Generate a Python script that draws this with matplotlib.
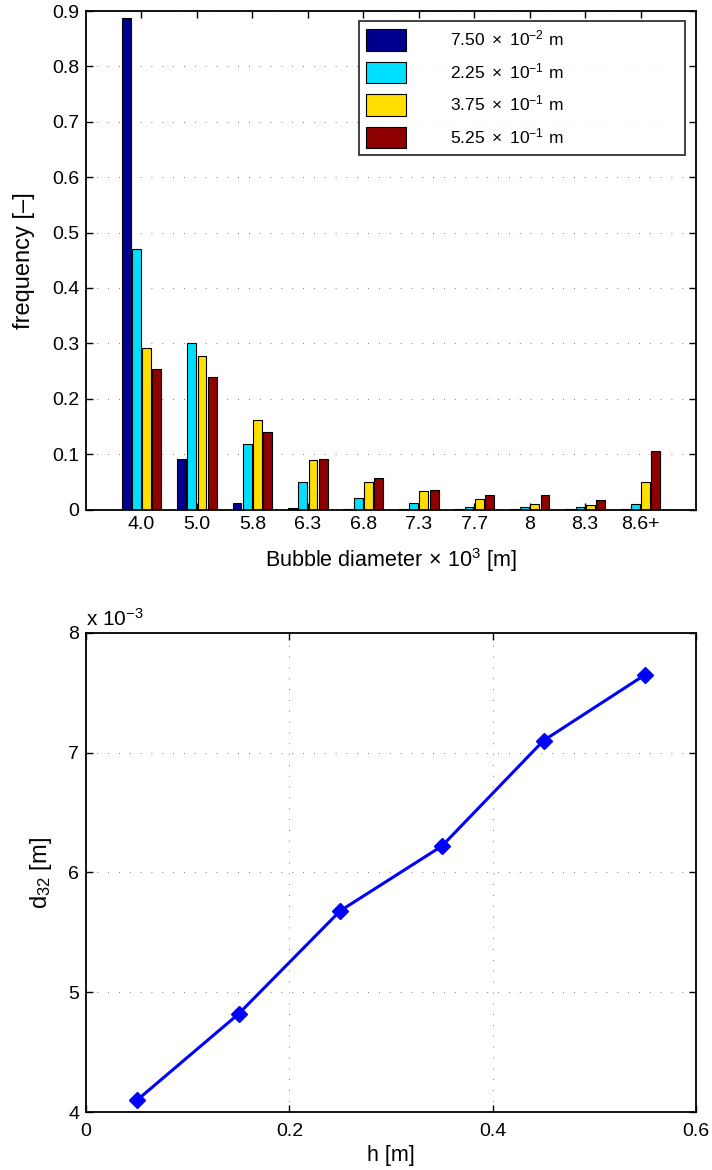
import numpy as np
import matplotlib
matplotlib.use("Agg")
import matplotlib.pyplot as plt

plt.rcParams['font.family'] = ['Liberation Sans', 'DejaVu Sans']
plt.rcParams['mathtext.fontset'] = 'custom'
plt.rcParams['mathtext.rm'] = 'Liberation Sans'
plt.rcParams['mathtext.it'] = 'Liberation Sans:italic'
plt.rcParams['mathtext.default'] = 'regular'

# --- distribución de tamaños de burbuja ---
clases_diametro = ['4.0', '5.0', '5.8', '6.3', '6.8', '7.3', '7.7', '8', '8.3', '8.6+']
alturas_leyenda = [r'$7.50\ \times\ 10^{-2}$ m', r'$2.25\ \times\ 10^{-1}$ m',
                   r'$3.75\ \times\ 10^{-1}$ m', r'$5.25\ \times\ 10^{-1}$ m']
freq_h1 = [0.887, 0.092, 0.011, 0.003, 0.001, 0.0005, 0.0005, 0.0005, 0.0005, 0.001]
freq_h2 = [0.470, 0.300, 0.118, 0.049, 0.020, 0.012, 0.005, 0.005, 0.004, 0.010]
freq_h3 = [0.292, 0.278, 0.161, 0.090, 0.049, 0.034, 0.019, 0.010, 0.009, 0.049]
freq_h4 = [0.253, 0.239, 0.140, 0.091, 0.057, 0.035, 0.027, 0.027, 0.018, 0.106]
colores = ['#00008F', '#00DFFF', '#FFDF00', '#8F0000']

# --- diámetro de Sauter frente a la altura ---
h = [0.05, 0.15, 0.25, 0.35, 0.45, 0.55]
d32 = [4.10e-3, 4.82e-3, 5.68e-3, 6.22e-3, 7.10e-3, 7.65e-3]

fig = plt.figure(figsize=(7.12, 11.7), dpi=100)
ax1 = fig.add_axes([86 / 712, 1 - 509.5 / 1170, 610 / 712, 498.5 / 1170])
ax2 = fig.add_axes([86 / 712, 1 - 1112.3 / 1170, 610 / 712, 479.6 / 1170])

fs = 14
fs_lab = 17
grid_kw = dict(color='0.3', linestyle=(0, (1, 12)), linewidth=0.6)

def estilo_matlab(ax):
    for s in ax.spines.values():
        s.set_linewidth(1.3)
    ax.tick_params(direction='in', top=True, right=True, length=5, width=1.0,
                   labelsize=fs, pad=5)

# barras agrupadas
x = np.arange(1, len(clases_diametro) + 1)
paso = 0.185
ancho = 0.16
series = [freq_h1, freq_h2, freq_h3, freq_h4]
for i, (serie, col, lab) in enumerate(zip(series, colores, alturas_leyenda)):
    ax1.bar(x + (i - 1.5) * paso, serie, width=ancho, color=col,
            edgecolor='black', linewidth=0.8, label=lab, zorder=2)
ax1.set_xlim(0, 11)
ax1.set_ylim(0, 0.9)
ax1.set_xticks(x)
ax1.set_xticklabels(clases_diametro)
ax1.set_yticks(np.arange(0, 0.91, 0.1))
ax1.set_yticklabels(['0'] + ['%.1f' % v for v in np.arange(0.1, 0.91, 0.1)])
ax1.yaxis.grid(True, **grid_kw)
ax1.set_axisbelow(True)
estilo_matlab(ax1)
ax1.set_xlabel(r'Bubble diameter$\,\times\,10^{3}$ [m]', fontsize=15.5, labelpad=9)
ax1.set_ylabel('frequency [–]', fontsize=fs_lab, labelpad=12)

leg = ax1.legend(loc='upper left', bbox_to_anchor=(273 / 610, 0.979, 326 / 610, 0.0),
                 mode='expand', fontsize=12.5, frameon=True, fancybox=False,
                 handlelength=2.3, handleheight=1.5, handletextpad=2.5,
                 labelspacing=0.62, borderpad=0.42, borderaxespad=0)
leg.get_frame().set_edgecolor('black')
leg.get_frame().set_linewidth(1.3)

# curva d32(h)
ax2.plot(h, np.array(d32) * 1e3, color='blue', linewidth=2.2, marker='D',
         markersize=8, markerfacecolor='blue', markeredgecolor='blue', zorder=3)
ax2.set_xlim(0, 0.6)
ax2.set_ylim(4, 8)
ax2.set_xticks([0, 0.2, 0.4, 0.6])
ax2.set_xticklabels(['0', '0.2', '0.4', '0.6'])
ax2.set_yticks([4, 5, 6, 7, 8])
ax2.grid(True, **grid_kw)
ax2.set_axisbelow(True)
estilo_matlab(ax2)
ax2.tick_params(axis='x', pad=8)
ax2.set_xlabel('h [m]', fontsize=15.5, labelpad=3)
ax2.set_ylabel(r'$d_{32}$ [m]', fontsize=fs_lab, labelpad=10)
ax2.text(0.0, 1.007, r'x $10^{-3}$', transform=ax2.transAxes, fontsize=15,
         ha='left', va='bottom')

fig.savefig('out.png', dpi=100)
